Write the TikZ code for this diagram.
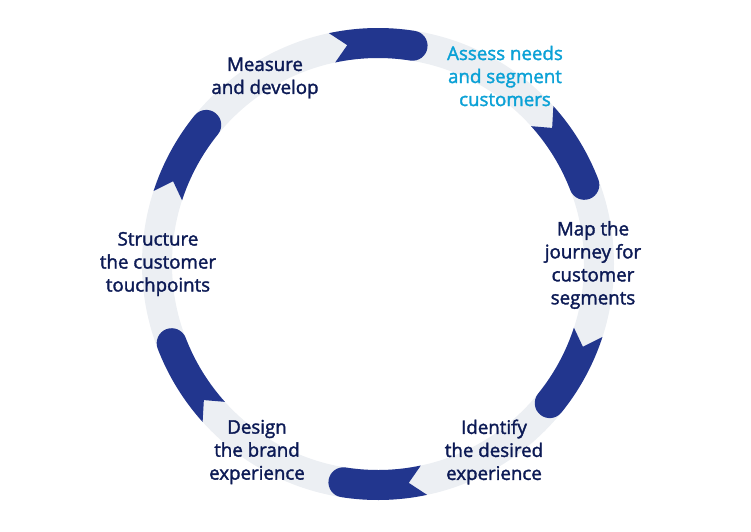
\documentclass[tikz,border=0pt]{standalone}
\usepackage{fontspec}
\usepackage{xcolor}
\usepackage{tikz}
\newfontfamily\stepfont{Open Sans}[FakeBold=1.8]
\definecolor{cycleblue}{HTML}{22368E}
\definecolor{ringgray}{HTML}{ECEFF3}
\definecolor{textnavy}{HTML}{0C1A55}
\definecolor{accentcyan}{HTML}{0BA1D6}

\begin{document}
\begin{tikzpicture}[x=1pt, y=1pt,
    steptext/.style={font=\stepfont\fontsize{18.7}{23}\selectfont, text=textnavy, align=center, inner sep=0pt}]
    \useasboundingbox (-378,-267) rectangle (373,264);
    \draw[ringgray, line width=30pt] (0,0) circle (221);
    \foreach \t in {102,42,-18,-78,-138,162} {
        \fill[cycleblue] (\t:236) arc[start angle=\t, end angle=\t-21, radius=236]
            arc[start angle=\t-21, end angle=\t-201, radius=15]
            arc[start angle=\t-21, end angle=\t, radius=206] -- (\t-4:221) -- cycle;
    }
    \node[steptext] (measure) at (-113,186) {Measure\\and develop};
    \node[steptext, text=accentcyan] (assess) at (127,188) {Assess needs\\and segment\\customers};
    \node[steptext] (map) at (215,-1) {Map the\\journey for\\customer\\segments};
    \node[steptext] (identify) at (116,-188) {Identify\\the desired\\experience};
    \node[steptext] (design) at (-121,-188) {Design\\the brand\\experience};
    \node[steptext] (structure) at (-220,0) {Structure\\the customer\\touchpoints};
\end{tikzpicture}
\end{document}
